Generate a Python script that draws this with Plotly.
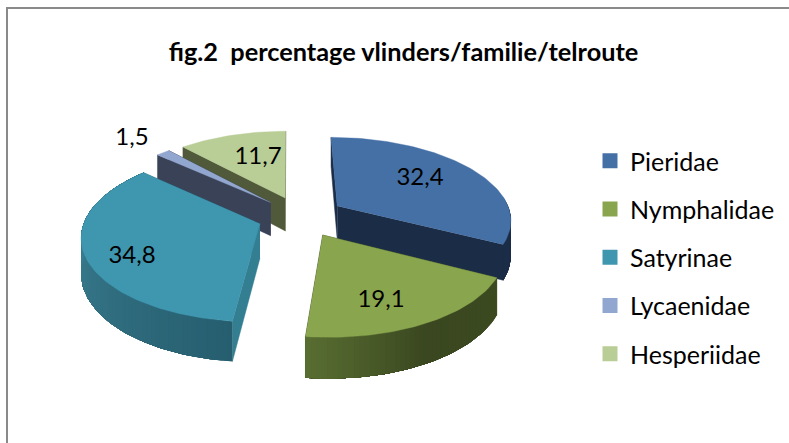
import numpy as np
import plotly.graph_objects as go

categories = ["Pieridae", "Nymphalidae", "Satyrinae", "Lycaenidae", "Hesperiidae"]
values = [32.4, 19.1, 34.8, 1.5, 11.7]
title_text = "fig.2\u00a0\u00a0percentage vlinders/familie/telroute"

top_colors = ["#4570A6", "#89A54E", "#3F96AF", "#92A7CF", "#B9CD96"]
start_wall = ["#1A2C46", "#3A4720", "#337E91", "#3A4257", "#50593A"]
end_wall = ["#1A2C46", "#3A4720", "#2B6A7C", "#3A4257", "#50593A"]
# outer wall colours, from the start angle of a slice to its end angle
outer_from = ["#1B2D47", "#3C4A20", "#265E6F", "#3A4257", "#50593A"]
outer_mid = ["#1B2D47", "#3A4720", "#357688", "#3A4257", "#50593A"]
outer_to = ["#1B2D47", "#586D31", "#3F8BA1", "#3A4257", "#50593A"]

label_xy = [(420, 178.5), (381, 300.5), (132, 256.5), (132, 138.5), (258, 157.5)]
paint_order = [0, 4, 3, 2, 1]

# projection of the exploded pie
PX, CX, CY = 288.0, 301.0, 216.5
AX, AY, K = 174.0, 81.5, 0.145
EXPLODE, DEPTH = 0.25, 34.0
FONT = "Lato"


def project(wu, wv, z=0.0):
    s = 1.0 / (1.0 - K * wv)
    return PX + (CX - PX + AX * wu) * s, CY + AY * wv * s + z * DEPTH * s


def hex_mix(a, b, t):
    ca = [int(a[i:i + 2], 16) for i in (1, 3, 5)]
    cb = [int(b[i:i + 2], 16) for i in (1, 3, 5)]
    return "#%02x%02x%02x" % tuple(round(x + (y - x) * t) for x, y in zip(ca, cb))


def poly(xs, ys, color, group, line=0.0):
    return go.Scatter(x=list(xs), y=list(ys), mode="lines", fill="toself", fillcolor=color,
                      line=dict(color=color, width=line), hoverinfo="skip",
                      showlegend=False, legendgroup=group)


total = sum(values)
edges = np.concatenate([[0], np.cumsum(values)]) / total * 2 * np.pi
fig = go.Figure()

for i in paint_order:
    a0, a1 = edges[i], edges[i + 1]
    mid = (a0 + a1) / 2
    eu, ev = EXPLODE * np.sin(mid), -EXPLODE * np.cos(mid)
    th = np.linspace(a0, a1, max(6, int((a1 - a0) * 40)))
    wu = eu + np.sin(th)
    wv = ev - np.cos(th)
    name = categories[i]

    def radial(a, color):
        u, v = eu + np.sin(a), ev - np.cos(a)
        p = [project(eu, ev), project(u, v), project(u, v, 1), project(eu, ev, 1)]
        fig.add_trace(poly([q[0] for q in p], [q[1] for q in p], color, name, line=0.5))

    radial(a1, end_wall[i])
    radial(a0, start_wall[i])
    n = len(th)
    for j in range(n - 1):
        if np.cos(th[j]) > 0.1 and np.cos(th[j + 1]) > 0.1:
            continue
        t = j / max(1, n - 2)
        c = hex_mix(outer_from[i], outer_mid[i], t * 2) if t < 0.5 else hex_mix(outer_mid[i], outer_to[i], t * 2 - 1)
        # every band runs to the end of the arc, and the next band paints over it: no seams
        idx = np.arange(j, n)
        xt, yt = project(wu[idx], wv[idx])
        xb, yb = project(wu[idx], wv[idx], 1)
        fig.add_trace(poly(np.r_[xt, xb[::-1]], np.r_[yt, yb[::-1]], c, name))
    tx, ty = project(np.r_[eu, wu], np.r_[ev, wv])
    fig.add_trace(poly(tx, ty, top_colors[i], name, line=0.4))

for i, name in enumerate(categories):
    fig.add_trace(go.Scatter(x=[label_xy[i][0]], y=[label_xy[i][1]], mode="text",
                             text=[f"{values[i]:.1f}".replace(".", ",")],
                             textfont=dict(family=FONT, size=24, color="#000000"),
                             hoverinfo="skip", showlegend=False, legendgroup=name))
    fig.add_trace(go.Scatter(x=[None], y=[None], mode="markers", name=name, legendgroup=name,
                             marker=dict(symbol="square", size=15, color=top_colors[i]),
                             showlegend=True))

fig.update_layout(
    width=789, height=443, autosize=False,
    margin=dict(l=0, r=0, t=0, b=0),
    paper_bgcolor="#FFFFFF", plot_bgcolor="#FFFFFF",
    xaxis=dict(range=[0, 789], visible=False, fixedrange=True),
    yaxis=dict(range=[443, 0], visible=False, fixedrange=True),
    title=dict(text=f"<b>{title_text}</b>", x=403.5 / 789, xanchor="center",
               y=1 - 52 / 443, yanchor="middle",
               font=dict(family=FONT, size=25.3, color="#000000")),
    legend=dict(x=590 / 789, xanchor="left", y=1 - 138 / 443, yanchor="top",
                font=dict(family=FONT, size=25, color="#000000"),
                tracegroupgap=12.75, bgcolor="rgba(0,0,0,0)"),
    shapes=[dict(type="line", xref="x", yref="y", x0=7, x1=7, y0=443, y1=8,
                 line=dict(color="#8A8A8A", width=2)),
            dict(type="line", xref="x", yref="y", x0=6, x1=789, y0=8, y1=8,
                 line=dict(color="#8A8A8A", width=2))],
)
fig.write_html("out.html", config={"displayModeBar": False},
               post_script="document.body.style.margin='0';document.documentElement.style.overflow='hidden';")
